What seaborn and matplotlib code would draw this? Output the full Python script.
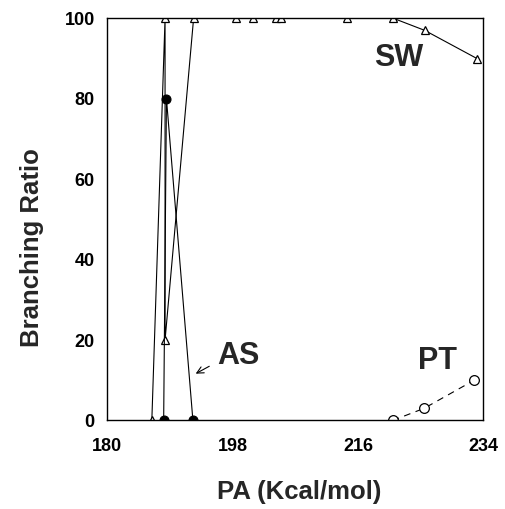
import matplotlib
matplotlib.use("Agg")
import matplotlib.pyplot as plt
import seaborn as sns
import pandas as pd

sns.set_theme(style="white")
plt.rcParams['font.family'] = ['Liberation Sans', 'DejaVu Sans']
plt.rcParams['font.weight'] = 'bold'

# Data
sw_x = [186.4, 188.3, 188.3, 192.4, 198.5, 200.9, 204.2, 204.9, 214.5, 221.1, 225.6, 233.1]
sw_y = [0, 100, 20, 100, 100, 100, 100, 100, 100, 100, 97, 90]
as_x = [188.1, 188.5, 192.3]
as_y = [0, 80, 0]
pt_x = [221.0, 225.5, 232.7]
pt_y = [0, 3, 10]
x_ticks = [180, 198, 216, 234]
y_ticks = [0, 20, 40, 60, 80, 100]

fig = plt.figure(figsize=(5.06, 5.09), dpi=100)
ax = fig.add_axes([0.212, 0.174, 0.743, 0.790])

sw = pd.DataFrame({"x": sw_x, "y": sw_y})
as_ = pd.DataFrame({"x": as_x, "y": as_y})
pt = pd.DataFrame({"x": pt_x, "y": pt_y})

sns.lineplot(data=sw, x="x", y="y", sort=False, estimator=None, ax=ax,
             color="black", linewidth=0.8, marker="^", markersize=6,
             markerfacecolor="white", markeredgecolor="black", markeredgewidth=0.9)
sns.lineplot(data=as_, x="x", y="y", sort=False, estimator=None, ax=ax,
             color="black", linewidth=0.8, marker="o", markersize=6.5,
             markerfacecolor="black", markeredgecolor="black")
sns.lineplot(data=pt, x="x", y="y", sort=False, estimator=None, ax=ax,
             color="black", linewidth=0.8, marker="o", markersize=7,
             markerfacecolor="white", markeredgecolor="black", markeredgewidth=0.9,
             dashes=False, linestyle=(0, (6, 5)))

ax.set_xlim(180, 234)
ax.set_ylim(0, 100)
ax.set_xticks(x_ticks)
ax.set_yticks(y_ticks)
ax.tick_params(axis="both", direction="in", length=4, width=0.8, colors="black",
               labelsize=13)
ax.tick_params(axis="x", pad=12.5)
ax.tick_params(axis="y", pad=9)
for lab in ax.get_xticklabels() + ax.get_yticklabels():
    lab.set_fontweight("bold")
for s in ax.spines.values():
    s.set_color("black")
    s.set_linewidth(1.0)

ax.set_xlabel("PA (Kcal/mol)", fontsize=18.5, fontweight="bold")
ax.set_ylabel("Branching Ratio", fontsize=18.5, fontweight="bold")
ax.xaxis.label.set_va("center")
ax.yaxis.label.set_va("center")
ax.xaxis.set_label_coords(0.51, -0.178)
ax.yaxis.set_label_coords(-0.2, 0.43)

ax.text(221.9, 90.2, "SW", fontsize=22, fontweight="bold", ha="center", va="center")
ax.text(198.8, 16.0, "AS", fontsize=22, fontweight="bold", ha="center", va="center")
ax.text(227.4, 14.8, "PT", fontsize=22, fontweight="bold", ha="center", va="center")
ax.annotate("", xy=(192.35, 11.3), xytext=(195.0, 13.8),
            arrowprops=dict(arrowstyle="->", color="black", lw=0.8))

fig.savefig("out.png", dpi=100)
